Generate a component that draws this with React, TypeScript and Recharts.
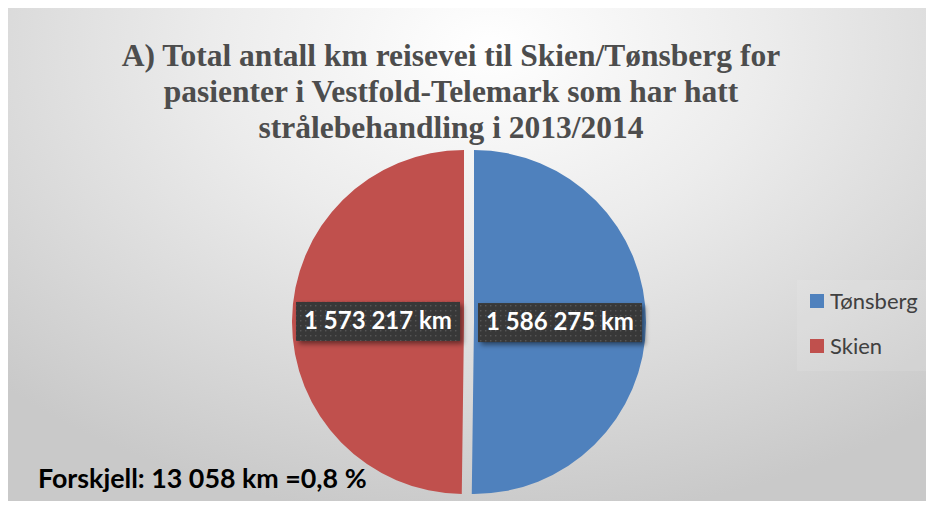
import { PieChart, Pie, Cell, Legend } from 'recharts';

const regions = ['Tønsberg', 'Skien'];
const km = [1586275, 1573217];
const colors = ['#4F81BD', '#C0504D'];
const valueLabels = ['1 586 275 km', '1 573 217 km'];
const titleLines = [
  'A) Total antall km reisevei til Skien/Tønsberg for',
  'pasienter i Vestfold-Telemark som har hatt',
  'strålebehandling i 2013/2014',
];
const note = 'Forskjell: 13 058 km =0,8 %';

const data = regions.map((name, i) => ({ name, value: km[i], label: valueLabels[i] }));

const RAD = Math.PI / 180;

function makeLabel(only: number) {
  return (props: any) => {
    const { cx, cy, midAngle, outerRadius, index } = props;
    if (index !== only) return null;
    const r = outerRadius * 0.5;
    const x = cx + r * Math.cos(-midAngle * RAD);
    const y = cy + r * Math.sin(-midAngle * RAD);
    const w = 164;
    const h = 39;
    return (
      <g>
        <defs>
          <pattern id={`dots${only}`} width="5" height="5" patternUnits="userSpaceOnUse">
            <rect width="5" height="5" fill="#393939" />
            <rect x="2" y="2" width="1.4" height="1.4" fill="#555" />
          </pattern>
          <filter id={`shadow${only}`} x="-20%" y="-30%" width="140%" height="170%">
            <feDropShadow dx="3" dy="3" stdDeviation="2.5" floodColor="#000" floodOpacity="0.45" />
          </filter>
        </defs>
        <rect x={x - w / 2} y={y - h / 2} width={w} height={h} fill={`url(#dots${only})`} filter={`url(#shadow${only})`} />
        <text
          x={x}
          y={y + 1}
          fill="#fff"
          textAnchor="middle"
          dominantBaseline="middle"
          style={{ fontFamily: 'Lato, sans-serif', fontWeight: 700, fontSize: 24 }}
        >
          {data[index].label}
        </text>
      </g>
    );
  };
}

const renderLegend = () => (
  <div style={{ width: 134, height: 91, background: 'rgba(255,255,255,0.1)', position: 'relative' }}>
    {regions.map((name, i) => (
      <div
        key={name}
        style={{
          position: 'absolute',
          left: 13,
          top: 7 + i * 45,
          display: 'flex',
          alignItems: 'center',
          fontFamily: 'Lato, sans-serif',
          fontSize: 22,
          color: '#404040',
          whiteSpace: 'nowrap',
        }}
      >
        <span style={{ width: 14, height: 14, background: colors[i], marginRight: 6, display: 'inline-block' }} />
        {name}
      </div>
    ))}
  </div>
);

export default function App() {
  return (
    <div style={{ position: 'relative', width: 934, height: 509, margin: -8, background: '#fff', overflow: 'hidden' }}>
      <div
        style={{
          position: 'absolute',
          left: 7,
          top: 7,
          width: 927,
          height: 500,
          borderTop: '1px solid #c4c4c4',
          borderLeft: '1px solid #c4c4c4',
          boxSizing: 'border-box',
          background: 'radial-gradient(ellipse 75% 95% at 52% 8%, #ffffff 0%, #ececec 40%, #c9c9c9 100%)',
        }}
      >
        {titleLines.map((line, i) => (
          <div
            key={i}
            style={{
              position: 'absolute',
              left: 0,
              width: 886,
              top: 30 + i * 36,
              textAlign: 'center',
              fontFamily: '"Liberation Serif", serif',
              fontWeight: 700,
              fontSize: 31.5,
              lineHeight: '36px',
              color: '#4d4d4d',
              whiteSpace: 'nowrap',
            }}
          >
            {line}
          </div>
        ))}
        <div
          style={{
            position: 'absolute',
            left: 30,
            top: 454,
            fontFamily: 'Lato, sans-serif',
            fontWeight: 700,
            fontSize: 26.8,
            color: '#000',
            whiteSpace: 'nowrap',
          }}
        >
          {note}
        </div>
        <PieChart
          width={927}
          height={500}
          margin={{ top: 0, right: 0, bottom: 0, left: 0 }}
          style={{ position: 'absolute', left: 0, top: 0 }}
        >
          <Pie
            data={data}
            dataKey="value"
            nameKey="name"
            cx={466}
            cy={314}
            outerRadius={172}
            startAngle={90}
            endAngle={-270}
            stroke="none"
            labelLine={false}
            label={makeLabel(0)}
            isAnimationActive={false}
          >
            {data.map((d, i) => (
              <Cell key={d.name} fill={i === 0 ? colors[0] : 'transparent'} />
            ))}
          </Pie>
          <Pie
            data={data}
            dataKey="value"
            nameKey="name"
            cx={456}
            cy={314}
            outerRadius={172}
            startAngle={90}
            endAngle={-270}
            stroke="none"
            labelLine={false}
            label={makeLabel(1)}
            isAnimationActive={false}
          >
            {data.map((d, i) => (
              <Cell key={d.name} fill={i === 1 ? colors[1] : 'transparent'} />
            ))}
          </Pie>
          <Legend
            content={renderLegend}
            wrapperStyle={{ position: 'absolute', left: 789, top: 272, width: 134, height: 91 }}
          />
        </PieChart>
      </div>
    </div>
  );
}
